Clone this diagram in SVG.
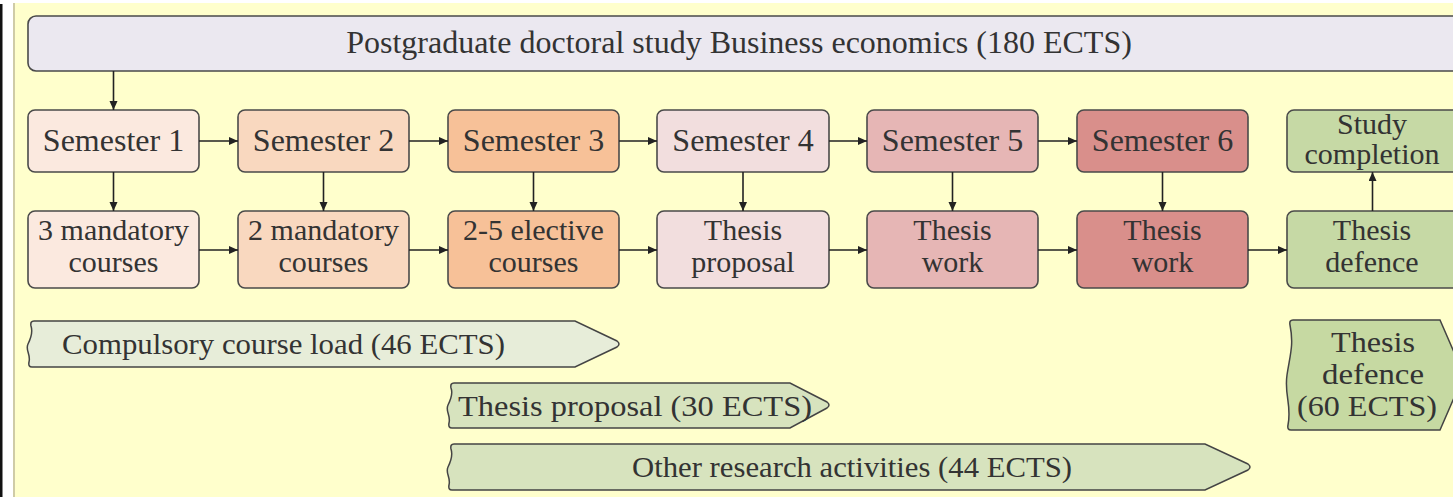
<svg xmlns="http://www.w3.org/2000/svg" width="1453" height="497" viewBox="0 0 1453 497">
<style>
.node{stroke:#4a4a4a;stroke-width:1.6}
.t{font-family:"Liberation Serif","Times New Roman",serif;font-size:32px;fill:#333;text-anchor:middle}
.t2{font-family:"Liberation Serif","Times New Roman",serif;font-size:30px;fill:#333;text-anchor:middle}
.b{font-family:"Liberation Serif","Times New Roman",serif;font-size:30px;fill:#333}
.c{stroke:#222;stroke-width:1.6;fill:none;marker-end:url(#ah)}
.band{stroke:#444;stroke-width:1.5}
</style>
<defs>
<marker id="ah" markerUnits="userSpaceOnUse" markerWidth="10" markerHeight="9" refX="9" refY="4" orient="auto">
<path d="M0,0 L9,4 L0,8 Z" fill="#222"/>
</marker>
</defs>
<rect x="0" y="0" width="1453" height="497" fill="#ffffff"/>
<rect x="0" y="4" width="2.5" height="493" fill="#111"/>
<rect x="13" y="3" width="1440" height="494" fill="#ffffcc"/>
<rect x="13" y="3" width="2" height="494" fill="#cfcba6"/>

<g id="top">
<rect class="node" x="28" y="16" width="1440" height="55" rx="8" fill="#ebe8f0"/>
<text class="t" x="739" y="53">Postgraduate doctoral study Business economics (180 ECTS)</text>
</g>

<g id="sem1"><rect class="node" x="28" y="110" width="171" height="62" rx="7" fill="#fbe9df"/><text class="t" x="113.5" y="151">Semester 1</text></g>
<g id="sem2"><rect class="node" x="238" y="110" width="171" height="62" rx="7" fill="#f9d8bf"/><text class="t" x="323.5" y="151">Semester 2</text></g>
<g id="sem3"><rect class="node" x="448" y="110" width="171" height="62" rx="7" fill="#f7c198"/><text class="t" x="533.5" y="151">Semester 3</text></g>
<g id="sem4"><rect class="node" x="657" y="110" width="172" height="62" rx="7" fill="#f2dede"/><text class="t" x="743" y="151">Semester 4</text></g>
<g id="sem5"><rect class="node" x="867" y="110" width="171" height="62" rx="7" fill="#e6b6b5"/><text class="t" x="952.5" y="151">Semester 5</text></g>
<g id="sem6"><rect class="node" x="1077" y="110" width="171" height="62" rx="7" fill="#d98f8b"/><text class="t" x="1162.5" y="151">Semester 6</text></g>
<g id="completion"><rect class="node" x="1287" y="110" width="180" height="62" rx="7" fill="#c6d9a5"/><text class="t2" x="1372" y="134">Study</text><text class="t2" x="1372" y="164">completion</text></g>

<g id="c1"><rect class="node" x="28" y="211" width="171" height="77" rx="7" fill="#fbe9df"/><text class="t2" x="113.5" y="240">3 mandatory</text><text class="t2" x="113.5" y="272">courses</text></g>
<g id="c2"><rect class="node" x="238" y="211" width="171" height="77" rx="7" fill="#f9d8bf"/><text class="t2" x="323.5" y="240">2 mandatory</text><text class="t2" x="323.5" y="272">courses</text></g>
<g id="c3"><rect class="node" x="448" y="211" width="171" height="77" rx="7" fill="#f7c198"/><text class="t2" x="533.5" y="240">2-5 elective</text><text class="t2" x="533.5" y="272">courses</text></g>
<g id="c4"><rect class="node" x="657" y="211" width="172" height="77" rx="7" fill="#f2dede"/><text class="t2" x="743" y="240">Thesis</text><text class="t2" x="743" y="272">proposal</text></g>
<g id="c5"><rect class="node" x="867" y="211" width="171" height="77" rx="7" fill="#e6b6b5"/><text class="t2" x="952.5" y="240">Thesis</text><text class="t2" x="952.5" y="272">work</text></g>
<g id="c6"><rect class="node" x="1077" y="211" width="171" height="77" rx="7" fill="#d98f8b"/><text class="t2" x="1162.5" y="240">Thesis</text><text class="t2" x="1162.5" y="272">work</text></g>
<g id="c7"><rect class="node" x="1287" y="211" width="180" height="77" rx="7" fill="#c6d9a5"/><text class="t2" x="1372" y="240">Thesis</text><text class="t2" x="1372" y="272">defence</text></g>

<g id="connectors">
<path class="c" d="M113.5,71 V110"/>
<path class="c" d="M199,141 H238"/>
<path class="c" d="M409,141 H448"/>
<path class="c" d="M619,141 H657"/>
<path class="c" d="M829,141 H867"/>
<path class="c" d="M1038,141 H1077"/>
<path class="c" d="M113.5,172 V211"/>
<path class="c" d="M323.5,172 V211"/>
<path class="c" d="M533.5,172 V211"/>
<path class="c" d="M743,172 V211"/>
<path class="c" d="M952.5,172 V211"/>
<path class="c" d="M1162.5,172 V211"/>
<path class="c" d="M1372.5,211 V172"/>
<path class="c" d="M199,250 H238"/>
<path class="c" d="M409,250 H448"/>
<path class="c" d="M619,250 H657"/>
<path class="c" d="M829,250 H867"/>
<path class="c" d="M1038,250 H1077"/>
<path class="c" d="M1248,250 H1287"/>
</g>

<g id="band-compulsory">
<path class="band" fill="#e7edd9" d="M34,321 H575 L617,341 Q621,344 617,347 L575,367 H32 Q28,367 29,362 C31,354 25,350 28,344 C31,338 33,332 31,326 Q30,321 34,321 Z"/>
<text class="b" x="62" y="354" textLength="443" lengthAdjust="spacingAndGlyphs">Compulsory course load (46 ECTS)</text>
</g>
<g id="band-proposal">
<path class="band" fill="#d7e3be" d="M454,383 H790 L827,402 Q831,405 827,408 L790,428 H452 Q448,428 449,423 C451,415 445,411 448,405 C451,399 453,393 451,388 Q450,383 454,383 Z"/>
<text class="b" x="458" y="416" textLength="354" lengthAdjust="spacingAndGlyphs">Thesis proposal (30 ECTS)</text>
</g>
<g id="band-research">
<path class="band" fill="#d7e3be" d="M454,444 H1205 L1248,464 Q1252,467 1248,470 L1205,490 H452 Q448,490 449,485 C451,477 445,473 448,467 C451,461 453,455 451,449 Q450,444 454,444 Z"/>
<text class="b" x="852" y="477" text-anchor="middle" textLength="440" lengthAdjust="spacingAndGlyphs">Other research activities (44 ECTS)</text>
</g>
<g id="band-defence">
<path class="band" fill="#c6d9a2" d="M1293,320 H1440 L1464,375 L1440,430 H1291 Q1287,430 1288,425 C1292,405 1284,395 1287,375 C1290,355 1294,345 1290,325 Q1289,320 1293,320 Z"/>
<text class="b" x="1373" y="352" text-anchor="middle" textLength="84" lengthAdjust="spacingAndGlyphs">Thesis</text>
<text class="b" x="1373" y="384" text-anchor="middle" textLength="102" lengthAdjust="spacingAndGlyphs">defence</text>
<text class="b" x="1367" y="416" text-anchor="middle" textLength="140" lengthAdjust="spacingAndGlyphs">(60 ECTS)</text>
</g>
</svg>
